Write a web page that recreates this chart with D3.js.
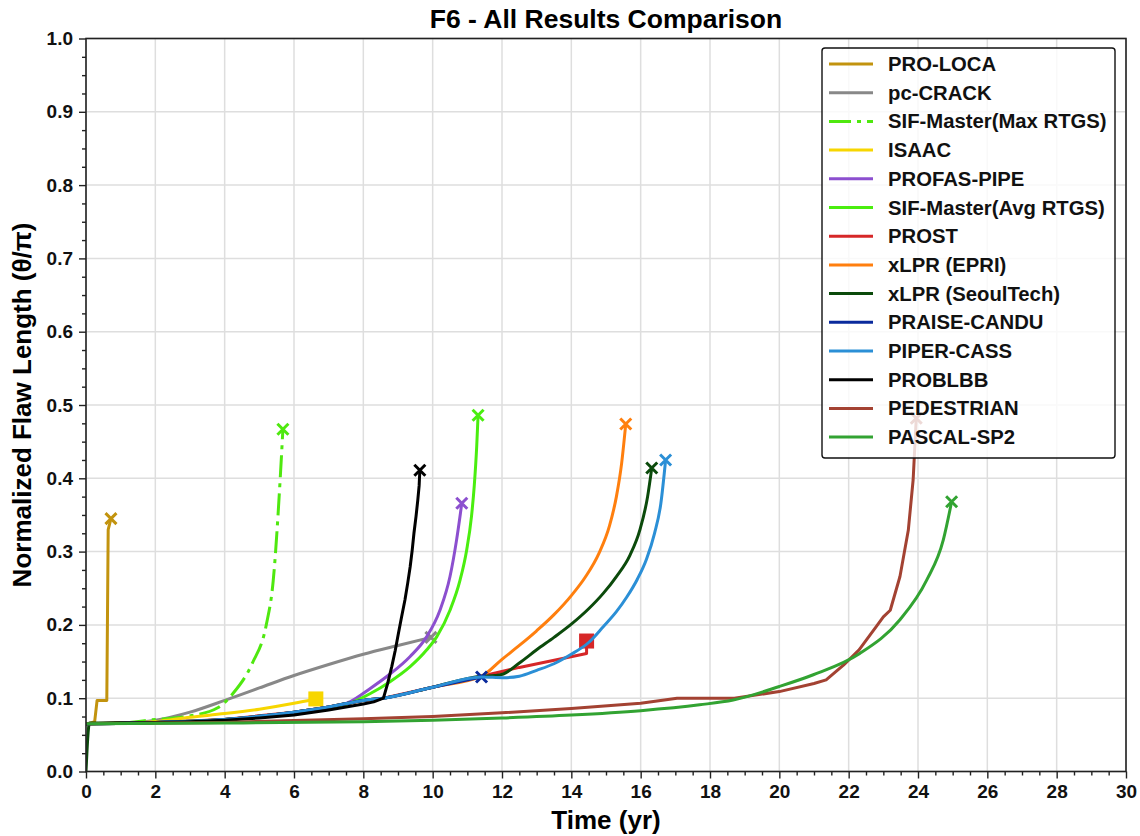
<!DOCTYPE html>
<html>
<head>
<meta charset="utf-8">
<script src="https://cdn.jsdelivr.net/npm/d3@7"></script>
<style>
  body { margin: 0; background: #fff; }
  svg { font-family: "Liberation Sans", Arial, sans-serif; }
</style>
</head>
<body>
<svg width="1140" height="836"></svg>
<script>
// values: [time (yr), normalized flaw length]
var proLoca = [[0, 0.065], [0.12, 0.066], [0.25, 0.068], [0.32, 0.097], [0.6, 0.097], [0.64, 0.33], [0.72, 0.345]];
var pcCrack = [[0, 0.065], [1, 0.066], [2, 0.07], [3, 0.081], [4, 0.097], [5, 0.114], [6, 0.131], [7, 0.146], [8, 0.16], [9, 0.172], [9.95, 0.183]];
var sifMax = [[0, 0.065], [1, 0.066], [2, 0.071], [2.9, 0.075], [3.8, 0.087], [4.25, 0.107], [4.8, 0.148], [5.2, 0.2], [5.4, 0.26], [5.6, 0.398], [5.68, 0.467]];
var isaac = [[0, 0.065], [1, 0.066], [2, 0.068], [3, 0.074], [4, 0.079], [5, 0.085], [6, 0.093], [6.63, 0.099]];
var profas = [[0, 0.065], [2, 0.067], [4, 0.071], [6, 0.08], [7, 0.087], [7.61, 0.095], [8.19, 0.113], [8.77, 0.133], [9.35, 0.157], [9.83, 0.184], [10.21, 0.22], [10.5, 0.266], [10.69, 0.316], [10.8, 0.352], [10.84, 0.366]];
var sifAvg = [[0, 0.065], [2, 0.067], [4, 0.071], [6, 0.079], [7, 0.086], [7.61, 0.093], [8.19, 0.106], [8.77, 0.1225], [9.35, 0.143], [9.83, 0.166], [10.12, 0.184], [10.5, 0.22], [10.79, 0.261], [10.98, 0.302], [11.12, 0.348], [11.2, 0.39], [11.27, 0.443], [11.31, 0.486]];
var prost = [[0, 0.065], [2, 0.067], [4, 0.071], [6, 0.081], [7, 0.088], [8, 0.097], [8.58, 0.1], [10, 0.115], [11.41, 0.13], [12.5, 0.142], [14.44, 0.161], [14.44, 0.178]];
var xlprEpri = [[0, 0.065], [2, 0.067], [4, 0.071], [6, 0.081], [7, 0.088], [8, 0.097], [8.58, 0.1], [10, 0.115], [11.41, 0.13], [12.0, 0.153], [12.5, 0.172], [13.0, 0.192], [13.5, 0.214], [14.0, 0.24], [14.4, 0.265], [14.8, 0.298], [15.1, 0.335], [15.3, 0.375], [15.45, 0.42], [15.57, 0.474]];
var xlprSeoul = [[0, 0], [0.1, 0.066], [2, 0.067], [4, 0.071], [6, 0.081], [7, 0.088], [8, 0.097], [8.58, 0.1], [10, 0.115], [11.41, 0.13], [11.8, 0.131], [12.04, 0.133], [12.5, 0.148], [13.0, 0.166], [13.5, 0.183], [14.0, 0.201], [14.5, 0.222], [14.92, 0.243], [15.3, 0.266], [15.69, 0.295], [15.98, 0.33], [16.2, 0.375], [16.32, 0.414]];
var praise = [[0, 0.065], [2, 0.067], [4, 0.071], [6, 0.081], [7, 0.088], [8, 0.097], [8.58, 0.1], [10, 0.115], [11.41, 0.129]];
var piper = [[0, 0.065], [2, 0.067], [4, 0.071], [6, 0.081], [7, 0.088], [8, 0.097], [8.58, 0.1], [10, 0.115], [11.41, 0.129], [12.04, 0.128], [12.5, 0.13], [13.0, 0.138], [13.5, 0.147], [13.96, 0.159], [14.5, 0.176], [14.92, 0.1975], [15.3, 0.218], [15.6, 0.238], [15.9, 0.262], [16.17, 0.29], [16.4, 0.325], [16.58, 0.365], [16.72, 0.425]];
var problbb = [[0, 0.065], [1, 0.066], [2, 0.067], [3, 0.068], [4, 0.07], [5, 0.073], [6, 0.077], [7, 0.084], [7.5, 0.088], [8, 0.092], [8.3, 0.095], [8.58, 0.1], [8.7, 0.12], [8.82, 0.143], [8.92, 0.165], [9.01, 0.188], [9.1, 0.21], [9.2, 0.234], [9.28, 0.257], [9.35, 0.279], [9.41, 0.302], [9.46, 0.325], [9.52, 0.348], [9.57, 0.37], [9.61, 0.39], [9.63, 0.411]];
var pedestrian = [[0, 0.065], [4, 0.067], [8, 0.072], [10, 0.075], [12, 0.08], [14, 0.086], [16, 0.093], [17.05, 0.1], [18.7, 0.1], [20, 0.109], [21, 0.12], [21.35, 0.125], [21.85, 0.145], [22.3, 0.166], [22.8, 0.198], [23.0, 0.211], [23.2, 0.22], [23.48, 0.266], [23.72, 0.329], [23.86, 0.398], [23.95, 0.482]];
var pascal = [[0, 0.065], [4, 0.066], [8, 0.068], [10, 0.07], [12, 0.073], [14, 0.077], [16, 0.083], [17.7, 0.091], [18.67, 0.0975], [20, 0.116], [20.98, 0.132], [22.32, 0.161], [23.48, 0.207], [24.25, 0.261], [24.73, 0.316], [24.97, 0.368]];

var names = ["PRO-LOCA", "pc-CRACK", "SIF-Master(Max RTGS)", "ISAAC", "PROFAS-PIPE", "SIF-Master(Avg RTGS)", "PROST",
  "xLPR (EPRI)", "xLPR (SeoulTech)", "PRAISE-CANDU", "PIPER-CASS", "PROBLBB", "PEDESTRIAN", "PASCAL-SP2"];
var seriesData = [proLoca, pcCrack, sifMax, isaac, profas, sifAvg, prost, xlprEpri, xlprSeoul, praise, piper, problbb, pedestrian, pascal];
var endMarks = ["x", "x", "x", "square", "x", "x", "square", "x", "x", "x", "x", "x", "x", "x"];

var xTicks = d3.range(0, 31, 2);
var yTicks = d3.range(0, 1.0001, 0.1);

// styling
var colors = ["#c2930e", "#888888", "#4fe80f", "#f7d600", "#8c4fcf", "#4aee0f", "#d62728",
  "#ff7f0e", "#0b4a0b", "#0a2a9c", "#2b8fd6", "#000000", "#a34232", "#32a332"];
var dashes = [null, null, "22,6,4,6", null, null, null, null, null, null, null, null, null, null, null];
var straightLines = {"PRO-LOCA": true, "PROST": true, "PEDESTRIAN": true, "PROBLBB": true};

var svg = d3.select("svg");
var margin = {left: 86, top: 38.5, right: 14, bottom: 64.5};
var width = 1140 - margin.left - margin.right,
    height = 836 - margin.top - margin.bottom;

var x = d3.scaleLinear().domain([0, 30]).range([0, width]);
var y = d3.scaleLinear().domain([0, 1]).range([height, 0]);

var g = svg.append("g").attr("transform", "translate(" + margin.left + "," + margin.top + ")");

// grid
g.append("g").selectAll("line").data(xTicks).enter().append("line")
  .attr("x1", d => x(d)).attr("x2", d => x(d)).attr("y1", 0).attr("y2", height)
  .attr("stroke", "#dedede").attr("stroke-width", 1.5);
g.append("g").selectAll("line").data(yTicks).enter().append("line")
  .attr("y1", d => y(d)).attr("y2", d => y(d)).attr("x1", 0).attr("x2", width)
  .attr("stroke", "#dedede").attr("stroke-width", 1.5);

var plot = g.append("g");
plot.append("clipPath").attr("id", "clip").append("rect").attr("width", width).attr("height", height);

var smooth = d3.line().x(d => x(d[0])).y(d => y(d[1])).curve(d3.curveMonotoneX);
var straight = d3.line().x(d => x(d[0])).y(d => y(d[1]));

seriesData.forEach(function(data, i) {
  var line = straightLines[names[i]] ? straight : smooth;
  plot.append("path")
    .attr("d", line(data))
    .attr("fill", "none")
    .attr("stroke", colors[i])
    .attr("stroke-width", 3)
    .attr("stroke-linejoin", "round")
    .attr("stroke-dasharray", dashes[i])
    .attr("clip-path", "url(#clip)");

  var last = data[data.length - 1],
      cx = x(last[0]), cy = y(last[1]);
  if (endMarks[i] == "square") {
    plot.append("rect")
      .attr("x", cx - 7.5).attr("y", cy - 7.5).attr("width", 15).attr("height", 15)
      .attr("fill", colors[i]);
  } else {
    var s = 5.5;
    plot.append("path")
      .attr("d", "M" + (cx - s) + "," + (cy - s) + "L" + (cx + s) + "," + (cy + s)
        + "M" + (cx - s) + "," + (cy + s) + "L" + (cx + s) + "," + (cy - s))
      .attr("stroke", colors[i]).attr("stroke-width", 3).attr("fill", "none");
  }
});

// axes
var xAxis = g.append("g").attr("transform", "translate(0," + height + ")")
  .call(d3.axisBottom(x).tickValues(xTicks).tickSize(7).tickPadding(6).tickFormat(d3.format("d")));
var xMinor = g.append("g").attr("transform", "translate(0," + height + ")")
  .call(d3.axisBottom(x).tickValues(d3.range(0, 30.01, 0.5).filter(d => d % 2 != 0)).tickSize(4).tickFormat(""));
var yAxis = g.append("g")
  .call(d3.axisLeft(y).tickValues(yTicks).tickSize(7).tickPadding(6).tickFormat(d3.format(".1f")));
var yMinor = g.append("g")
  .call(d3.axisLeft(y).tickValues(d3.range(0, 1.0001, 0.025).filter((d, i) => i % 4 != 0)).tickSize(4).tickFormat(""));

[xAxis, xMinor, yAxis, yMinor].forEach(function(a) {
  a.select(".domain").remove();
  a.selectAll("line").attr("stroke", "#222").attr("stroke-width", 1.4);
  a.selectAll("text").attr("font-size", 19).attr("font-weight", "bold").attr("fill", "#111");
});

g.append("rect").attr("width", width).attr("height", height)
  .attr("fill", "none").attr("stroke", "#222").attr("stroke-width", 1.6);

// labels
svg.append("text").attr("x", margin.left + width / 2).attr("y", 28)
  .attr("text-anchor", "middle").attr("font-size", 26.5).attr("font-weight", "bold")
  .text("F6 - All Results Comparison");
svg.append("text").attr("x", margin.left + width / 2).attr("y", 829)
  .attr("text-anchor", "middle").attr("font-size", 26).attr("font-weight", "bold")
  .text("Time (yr)");
svg.append("text").attr("transform", "translate(31," + (margin.top + height / 2) + ") rotate(-90)")
  .attr("text-anchor", "middle").attr("font-size", 26).attr("font-weight", "bold")
  .text("Normalized Flaw Length (θ/π)");

// legend
var leg = svg.append("g").attr("transform", "translate(822,48)");
leg.append("rect").attr("width", 293).attr("height", 410).attr("rx", 3)
  .attr("fill", "#fff").attr("fill-opacity", 0.8)
  .attr("stroke", "#111").attr("stroke-width", 1.4);
names.forEach(function(n, i) {
  var ly = 16 + i * 28.7;
  leg.append("line").attr("x1", 7).attr("x2", 51).attr("y1", ly).attr("y2", ly)
    .attr("stroke", colors[i]).attr("stroke-width", 3).attr("stroke-dasharray", dashes[i]);
  leg.append("text").attr("x", 66).attr("y", ly + 7).attr("font-size", 20.3).attr("font-weight", "bold")
    .attr("fill", "#111").text(n);
});
</script>
</body>
</html>
